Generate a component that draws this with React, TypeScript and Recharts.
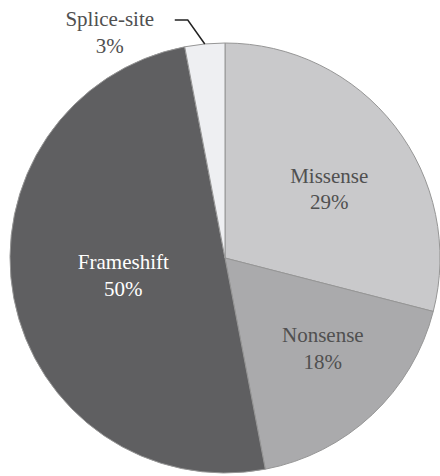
import React from 'react';
import { PieChart, Pie, Cell } from 'recharts';

const CATEGORIES = ['Missense', 'Nonsense', 'Frameshift', 'Splice-site'];
const PERCENTS = [29, 18, 50, 3];
const COLORS = ['#c9c9cb', '#aaaaac', '#5f5f61', '#eeeff2'];
const TEXT_COLORS = ['#505050', '#505050', '#ffffff', '#505050'];

const FONT = '"Liberation Serif", "Times New Roman", serif';
const RADIAN = Math.PI / 180;
// label placement inside slices (fraction of radius, angle nudge in degrees), tuned by eye
const LABEL_RADIUS = [0.58, 0.62, 0.48, 1];
const LABEL_NUDGE = [-4.5, 4, -1, 0];

const data = CATEGORIES.map((name, i) => ({ name, value: PERCENTS[i] }));

const renderLabel = (props: any) => {
  const { cx, cy, midAngle, outerRadius, index } = props;
  const name = CATEGORIES[index];
  const pct = `${PERCENTS[index]}%`;

  if (name === 'Splice-site') {
    const ex = cx + outerRadius * Math.cos(-midAngle * RADIAN);
    const ey = cy + outerRadius * Math.sin(-midAngle * RADIAN);
    const mx = ex - 17;
    const my = ey - 24;
    const tx = mx - 13;
    return (
      <g>
        <polyline
          points={`${ex},${ey} ${mx},${my} ${tx},${my}`}
          fill="none"
          stroke="#222"
          strokeWidth={1.5}
        />
        <text x={tx - 65} y={my} fill={TEXT_COLORS[index]} textAnchor="middle" style={{ fontFamily: FONT }} fontSize={21}>
          <tspan x={tx - 65} dy="0.3em">{name}</tspan>
          <tspan x={tx - 65} dy="1.25em">{pct}</tspan>
        </text>
      </g>
    );
  }

  const r = outerRadius * LABEL_RADIUS[index];
  const a = (midAngle + LABEL_NUDGE[index]) * RADIAN;
  const x = cx + r * Math.cos(-a);
  const y = cy + r * Math.sin(-a);
  return (
    <text x={x} y={y} fill={TEXT_COLORS[index]} textAnchor="middle" style={{ fontFamily: FONT }} fontSize={21}>
      <tspan x={x} dy="-0.3em">{name}</tspan>
      <tspan x={x} dy="1.25em">{pct}</tspan>
    </text>
  );
};

export default function App() {
  return (
    <div style={{ position: 'absolute', left: 0, top: 0, background: '#fff' }}>
      <PieChart width={440} height={476} margin={{ top: 0, right: 0, bottom: 0, left: 0 }}>
        <Pie
          data={data}
          dataKey="value"
          nameKey="name"
          cx={225}
          cy={258}
          outerRadius={215}
          startAngle={90}
          endAngle={-270}
          stroke="#969696"
          strokeWidth={1}
          label={renderLabel}
          labelLine={false}
          isAnimationActive={false}
        >
          {data.map((entry, i) => (
            <Cell key={entry.name} fill={COLORS[i]} />
          ))}
        </Pie>
      </PieChart>
    </div>
  );
}
